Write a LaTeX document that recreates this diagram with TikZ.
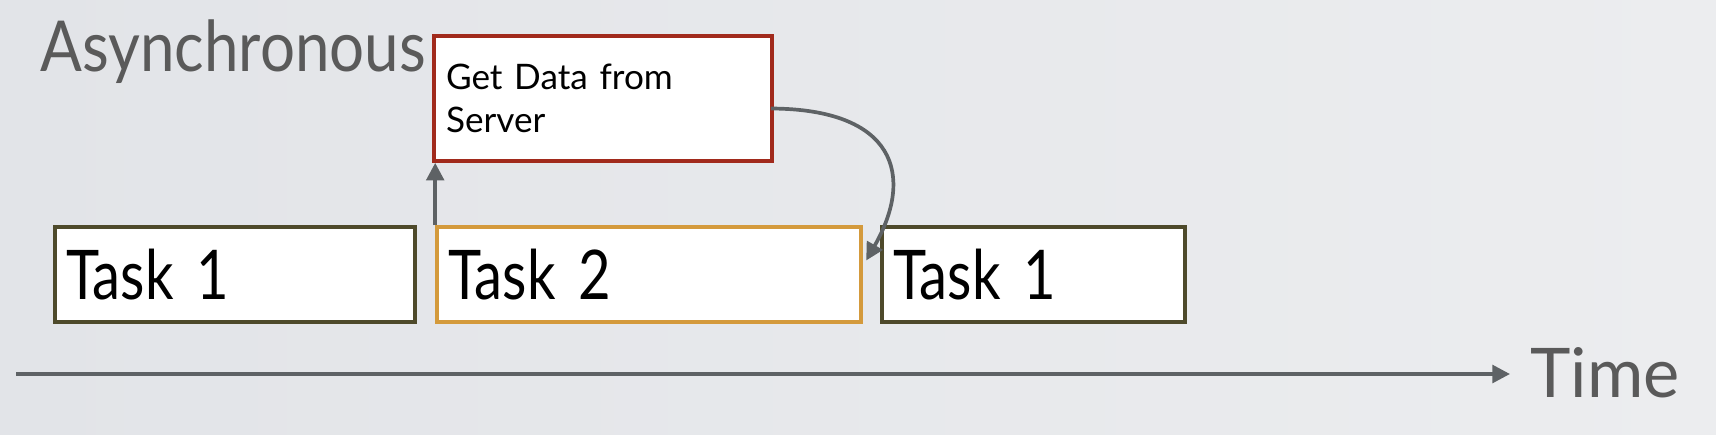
\documentclass[tikz,border=0pt]{standalone}
\usepackage{fontspec}
\setmainfont{Lato}
\newfontfamily\narrowfont{Lato}[FakeStretch=0.82]
\newfontfamily\titlefont{Lato}[FakeStretch=0.88]
\usetikzlibrary{arrows.meta,calc}
\definecolor{bgL}{HTML}{E2E4E8}
\definecolor{bgR}{HTML}{ECEDEF}
\definecolor{olive}{HTML}{4E4A2B}
\definecolor{amber}{HTML}{D49A3C}
\definecolor{brick}{HTML}{A12A1C}
\definecolor{arrowgray}{HTML}{5E6265}
\definecolor{labelgray}{HTML}{5A5A5A}
\begin{document}
\begin{tikzpicture}[x=0.02cm,y=-0.02cm,
  taskbox/.style={draw, fill=white, line width=2.1pt, minimum height=1.9cm,
    inner xsep=0.22cm, inner ysep=0pt, align=left, text=black,
    font=\narrowfont\fontsize{39}{47}\selectfont},
  serverbox/.style={draw=brick, fill=white, line width=2.1pt, minimum height=2.5cm,
    inner xsep=0.24cm, inner ysep=0pt, align=left, text=black,
    font=\fontsize{20}{24.5}\selectfont},
  biglabel/.style={anchor=base west, inner sep=0pt, text=labelgray,
    font=\fontsize{39}{47}\selectfont},
  arr/.style={draw=arrowgray, line width=2.1pt, -{Triangle[width=10pt,length=10pt]}}]
\fill[left color=bgL, right color=bgR] (0,0) rectangle (1716,434);
\useasboundingbox (0,0) rectangle (1716,434);

\node[biglabel, font=\titlefont\fontsize{40}{47}\selectfont] (async) at (40,71) {Asynchronous};
\node[serverbox, text width=6.28cm] (gd) at (603,98.5) {Get Data from\\Server};

\node[taskbox, draw=olive, text width=6.76cm] (t1a) at (235,274.5) {Task 1};
\node[taskbox, draw=amber, text width=8.04cm] (t2) at (649,274.5) {Task 2};
\node[taskbox, draw=olive, text width=5.62cm] (t1b) at (1033.5,274.5) {Task 1};

\node[biglabel] (time) at (1530,397) {Time};
\coordinate (axstart) at (16,374);
\coordinate (axend) at (1510,374);
\draw[arr] (axstart) -- (axend);

\draw[arr] (t2.north west) -- (t2.north west |- gd.south);
\coordinate (ret) at ($(t1b.west)+(-14,-14)$);
\draw[arr] ($(gd.east)+(-3,10)$) .. controls (895,109) and (915,175) .. (ret);
\end{tikzpicture}
\end{document}
